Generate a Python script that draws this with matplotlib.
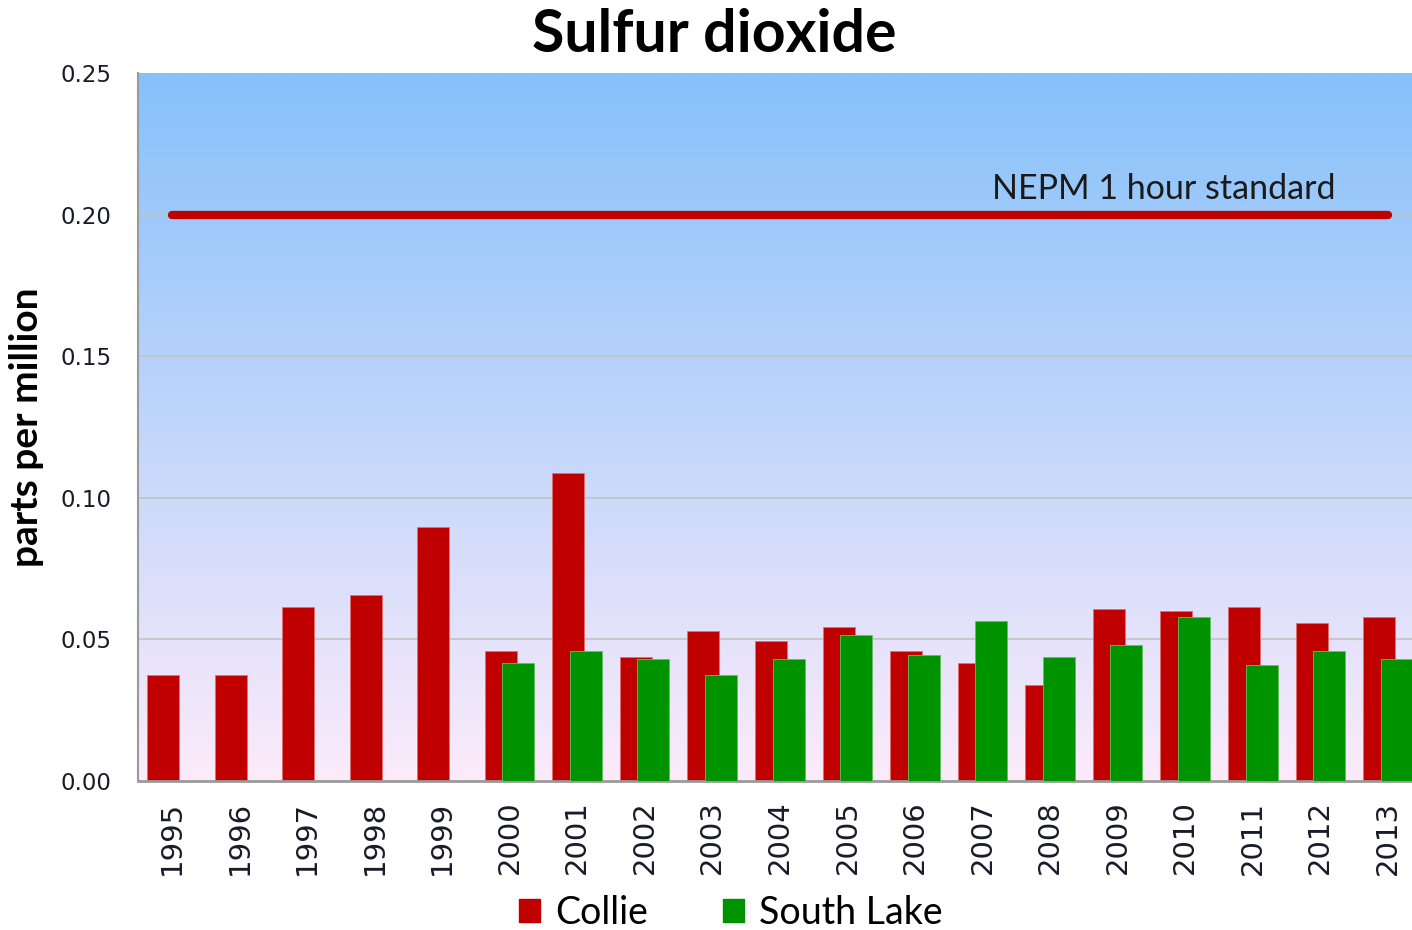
import numpy as np
import matplotlib.pyplot as plt
from matplotlib.patches import Patch

# Data
years = [str(y) for y in range(1995, 2014)]
collie = [0.0374, 0.0374, 0.0614, 0.0657, 0.0897, 0.0459, 0.1088, 0.0438, 0.0530,
          0.0494, 0.0544, 0.0459, 0.0417, 0.0339, 0.0607, 0.0600, 0.0614, 0.0558, 0.0579]
south_lake = [np.nan] * 5 + [0.0417, 0.0459, 0.0431, 0.0374, 0.0431, 0.0516, 0.0445,
                             0.0565, 0.0438, 0.0480, 0.0579, 0.0410, 0.0459, 0.0431]
standard = [0.20] * len(years)

red = "#c00000"
green = "#009300"

fig = plt.figure(figsize=(14.12, 9.30), dpi=100)
ax = fig.add_axes([138 / 1412, 1 - 781 / 930, 1 - 138 / 1412, (781 - 73) / 930])

x = np.arange(len(years))
xmin, xmax = -0.5, -0.5 + (1412 - 138) / 67.56

# gradient background
grad = np.linspace(0, 1, 256).reshape(-1, 1)
top = np.array([134, 193, 251]) / 255
bottom = np.array([252, 235, 250]) / 255
img = bottom + (top - bottom) * grad
ax.imshow(img[:, None, :].repeat(2, axis=1), extent=[xmin, xmax, 0, 0.25],
          origin="lower", aspect="auto", zorder=0)

for v in [0.05, 0.10, 0.15, 0.20]:
    ax.axhline(v, color="#c3c3c3", lw=1.2, zorder=1)

w = 0.474
ax.bar(x - 0.13, collie, w, color=red, edgecolor="#e07070", lw=0.6, zorder=2)
ax.bar(x + 0.13, south_lake, w, color=green, edgecolor="#60c060", lw=0.6, zorder=3)

ax.plot(x, standard, color=red, lw=6, solid_capstyle="round", zorder=4)
ax.text(x[-1] - 0.78, 0.2035, "NEPM 1 hour standard", ha="right", va="bottom",
        fontsize=24.5, family="Lato", color="#1a1a1a", zorder=5)

ax.set_xlim(xmin, xmax)
ax.set_ylim(0, 0.25)
ax.set_yticks([0, 0.05, 0.10, 0.15, 0.20, 0.25])
ax.set_yticklabels(["0.00", "0.05", "0.10", "0.15", "0.20", "0.25"], fontsize=16.5)
ax.set_xticks(x)
ax.set_xticklabels(years, rotation=90, fontsize=21)
ax.tick_params(axis="y", length=0, pad=19, colors="#1a1a2a")
ax.tick_params(axis="x", length=0, pad=14, colors="#1a1a2a")
for s in ["top", "right"]:
    ax.spines[s].set_visible(False)
ax.spines["left"].set_color("#9a9a9a")
ax.spines["bottom"].set_color("#9a9a9a")
ax.spines["bottom"].set_linewidth(2)
ax.spines["left"].set_linewidth(1.5)

ax.set_ylabel("parts per million", fontsize=28, fontweight="bold", family="Lato")
ax.yaxis.set_label_coords(-0.074, 0.5)

fig.text(714 / 1412, 1 - 35 / 930, "Sulfur dioxide", ha="center", va="center",
         fontsize=42.5, fontweight="bold", family="Lato")

handles = [Patch(color=red, label="Collie"), Patch(color=green, label="South Lake")]
fig.legend(handles=handles, loc="center", bbox_to_anchor=(731 / 1412, 1 - 913 / 930),
           ncol=2, frameon=False, prop={"family": "Lato", "size": 27},
           handlelength=0.56, handleheight=0.56, handletextpad=0.4, columnspacing=2.0)

fig.savefig("out.png", dpi=100)
